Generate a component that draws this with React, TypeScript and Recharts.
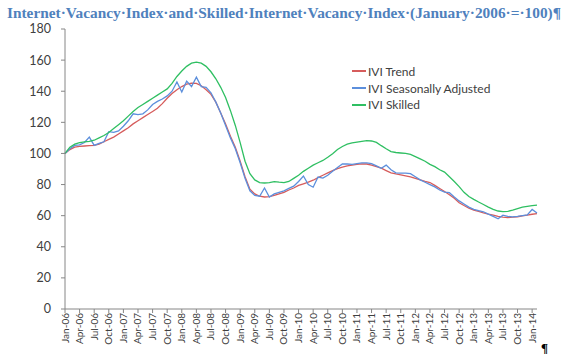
import { LineChart, Line, XAxis, YAxis } from 'recharts'

const monthNames = ['Jan', 'Feb', 'Mar', 'Apr', 'May', 'Jun', 'Jul', 'Aug', 'Sep', 'Oct', 'Nov', 'Dec']
const years = ['06', '07', '08', '09', '10', '11', '12', '13', '14']

const allMonths: string[] = []
years.forEach((yr) => monthNames.forEach((m) => allMonths.push(`${m}-${yr}`)))
// Jan-06 .. Feb-14
const categories = allMonths.slice(0, 98)

const iviTrend = [
  100, 102.5, 104, 104.5, 104.8, 105, 105.2, 106, 107.5, 109, 110.5, 112.5,
  114.5, 116.5, 119, 121, 123, 125, 127, 129, 132, 135.5, 138.5, 141, 143,
  144.5, 145.2, 145, 143.5, 141, 138, 133, 126, 119, 111, 104, 95, 85, 77,
  74, 72.5, 72, 72.3, 73, 74, 75, 76.5, 77.8, 79.5, 80.5, 81.5, 82.8, 84.5,
  86, 87.5, 89, 90.3, 91.2, 92, 92.5, 93, 93.3, 93.2, 92.5, 91.5, 90.5, 89,
  87.5, 86.8, 86.2, 85.6, 85, 84, 83, 82, 81.3, 79.5, 77.5, 75.5, 73.5, 71.2,
  68.3, 66.5, 64.8, 63.5, 62.7, 61.8, 61, 60.3, 59.6, 59, 58.8, 59, 59.3,
  59.8, 60.3, 60.9, 61.3,
]

const iviSeasonallyAdjusted = [
  100, 103, 105.2, 105.5, 107, 110.5, 105.2, 106.5, 107.5, 114, 113.5, 114.5,
  117.5, 121, 125.5, 125, 125.5, 128, 131.5, 133.5, 135, 137, 140, 146, 139.5,
  146.5, 143, 149, 143, 142.5, 139, 133, 126, 118, 110, 103, 94, 84, 76, 73,
  72.5, 77.8, 72, 74, 75, 76, 77.5, 79, 82, 85.5, 80, 78.3, 84.8, 84.2, 86,
  88.5, 91, 93.2, 93.2, 93, 93.5, 94, 94, 93.5, 92, 90.5, 92.5, 89.5, 87.5,
  87.3, 87.4, 87, 85, 83, 81.5, 80, 78.5, 76.5, 75.2, 74.8, 72, 69.5, 67.5,
  65.5, 64, 63.2, 62.5, 61, 59.5, 58, 60.3, 59.5, 59.2, 59.5, 60, 60.5, 64,
  61.7,
]

const iviSkilled = [
  100, 104, 106, 107, 107.5, 107.7, 108.5, 110, 111.5, 113.5, 116, 118.5, 121,
  124, 127, 129.5, 131.5, 133.5, 135.5, 137.5, 139.5, 141.5, 145, 149.5, 153,
  156, 158, 158.7, 158, 156, 152.5, 148, 142.5, 136, 127.5, 118, 107, 95, 87,
  83, 81.3, 81, 81.3, 81.9, 81.5, 81.3, 82, 84, 86, 88.5, 90.5, 92.5, 94,
  95.5, 97.5, 99.8, 102.5, 104.5, 106, 106.8, 107.3, 107.8, 108.3, 108, 107.1,
  105, 103, 101.2, 100.6, 100.3, 100, 99.4, 98, 96.5, 95, 93, 91.5, 89.5, 88,
  85, 82, 78.7, 75, 72.3, 70.5, 68.8, 67.2, 65.5, 64, 63, 62.6, 62.8, 63.5,
  64.5, 65.5, 66, 66.5, 66.8,
]

const yTicks = [0, 20, 40, 60, 80, 100, 120, 140, 160, 180]

const seriesNames = ['IVI Trend', 'IVI Seasonally Adjusted', 'IVI Skilled']
const seriesColors = ['#D65C5C', '#5C8FDC', '#2FBF62']

const data = categories.map((month, i) => ({
  month,
  trend: iviTrend[i],
  sa: iviSeasonallyAdjusted[i],
  skilled: iviSkilled[i],
}))

const axisColor = '#868686'
const textColor = '#404040'
const font = 'Lato, "Open Sans", sans-serif'

function MonthTick({ x, y, payload }: any) {
  return (
    <text
      x={x}
      y={y}
      transform={`rotate(-90 ${x} ${y})`}
      textAnchor="end"
      dy="0.35em"
      fontSize={10}
      fontFamily={font}
      fill={textColor}
    >
      {payload.value}
    </text>
  )
}

function LegendBox() {
  return (
    <div
      style={{
        position: 'absolute',
        left: 352,
        top: 63,
        fontFamily: font,
        fontSize: 12,
        color: textColor,
      }}
    >
      {seriesNames.map((name, i) => (
        <div key={name} style={{ display: 'flex', alignItems: 'center', height: 16.7 }}>
          <div style={{ width: 14, height: 2, background: seriesColors[i], marginRight: 2 }} />
          <span>{name}</span>
        </div>
      ))}
    </div>
  )
}

export default function App() {
  return (
    <div style={{ position: 'absolute', left: 0, top: 0, width: 576, height: 357, background: '#fff' }}>
      <svg width={576} height={24} style={{ position: 'absolute', left: 0, top: 0 }}>
        <text
          x={7}
          y={18}
          textLength={554}
          lengthAdjust="spacingAndGlyphs"
          fontFamily='"Liberation Serif", serif'
          fontWeight="bold"
          fontSize={15.5}
          fill="#4F81BD"
        >
          Internet·Vacancy·Index·and·Skilled·Internet·Vacancy·Index·(January·2006·=·100)¶
        </text>
      </svg>
      <div style={{ position: 'absolute', left: 0, top: 0 }}>
        <LineChart width={576} height={357} data={data} margin={{ top: 29, right: 39, left: 0, bottom: 0 }}>
          <XAxis
            dataKey="month"
            interval={2}
            height={48}
            tickSize={4}
            tickMargin={0}
            tick={<MonthTick />}
            axisLine={{ stroke: axisColor }}
            tickLine={{ stroke: axisColor }}
          />
          <YAxis
            width={65}
            domain={[0, 180]}
            ticks={yTicks}
            interval={0}
            tickSize={4}
            tickMargin={10}
            axisLine={{ stroke: axisColor }}
            tickLine={{ stroke: axisColor }}
            tick={{ fontSize: 12.5, fontFamily: font, fill: textColor }}
          />
          <Line dataKey="trend" name={seriesNames[0]} stroke={seriesColors[0]} strokeWidth={1.3} dot={false} isAnimationActive={false} />
          <Line dataKey="sa" name={seriesNames[1]} stroke={seriesColors[1]} strokeWidth={1.3} dot={false} isAnimationActive={false} />
          <Line dataKey="skilled" name={seriesNames[2]} stroke={seriesColors[2]} strokeWidth={1.3} dot={false} isAnimationActive={false} />
        </LineChart>
      </div>
      <LegendBox />
      <div
        style={{
          position: 'absolute',
          left: 541,
          top: 340,
          fontFamily: '"Liberation Serif", serif',
          fontWeight: 'bold',
          fontSize: 13,
          color: '#000',
        }}
      >
        ¶
      </div>
    </div>
  )
}
